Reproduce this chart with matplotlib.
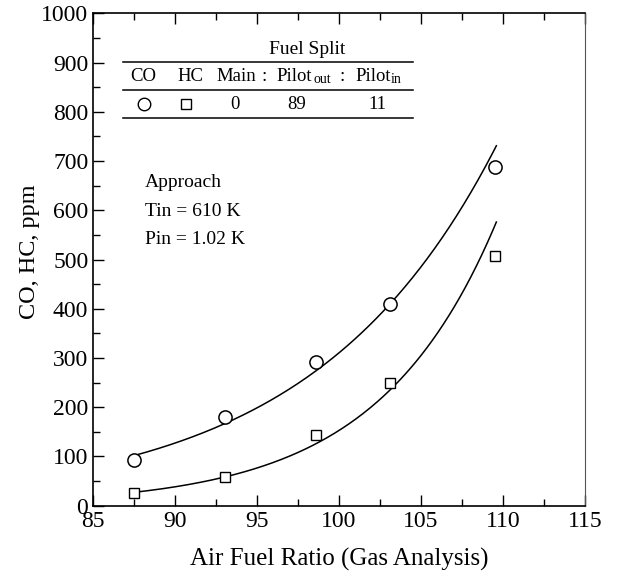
import numpy as np
import matplotlib
matplotlib.use("Agg")
import matplotlib.pyplot as plt
from matplotlib.ticker import MultipleLocator

plt.rcParams["font.family"] = ["Liberation Serif", "DejaVu Serif"]

# data
co_afr = [87.5, 93.1, 98.6, 103.1, 109.5]
co_ppm = [93, 180, 292, 410, 687]
hc_afr = [87.5, 93.1, 98.6, 103.1, 109.5]
hc_ppm = [25, 58, 144, 250, 508]
fit_range = [87.5, 109.6]

split_cols = ["Main", "Pilot", "Pilot"]
split_vals = ["0", "89", "11"]

fig = plt.figure(figsize=(6.18, 5.74), dpi=100)
ax = fig.add_axes([0.1497, 0.119, 0.7969, 0.8578])

# exponential least-squares curves (fit in log space)
xf = np.linspace(fit_range[0], fit_range[1], 200)
for xs, ys in [(co_afr, co_ppm), (hc_afr, hc_ppm)]:
    b, a = np.polyfit(xs, np.log(ys), 1)
    ax.plot(xf, np.exp(a + b * xf), color="black", lw=1.1, zorder=2)

ax.plot(co_afr, co_ppm, "o", ms=9.5, mfc="white", mec="black", mew=1.1, ls="none", zorder=3)
ax.plot(hc_afr, hc_ppm, "s", ms=7, mfc="white", mec="black", mew=1.0, ls="none", zorder=3)

ax.set_xlim(85, 115)
ax.set_ylim(0, 1000)
ax.xaxis.set_major_locator(MultipleLocator(5))
ax.xaxis.set_minor_locator(MultipleLocator(2.5))
ax.yaxis.set_major_locator(MultipleLocator(100))
ax.yaxis.set_minor_locator(MultipleLocator(50))
ax.tick_params(which="both", direction="in", top=True, right=False, labelsize=17, width=1)
ax.tick_params(which="major", length=8)
ax.tick_params(which="minor", length=5)
ax.tick_params(axis="x", pad=4)
ax.tick_params(axis="y", pad=3)
ax.spines["right"].set_color("#555555")
for s in ["left", "bottom", "top"]:
    ax.spines[s].set_linewidth(1.2)

ax.set_xlabel("Air Fuel Ratio (Gas Analysis)", fontsize=18, labelpad=11)
ax.set_ylabel("CO, HC, ppm", fontsize=17.5)
ax.yaxis.set_label_coords(-0.107, 0.515)

# fuel split table (figure pixel coordinates -> axes fraction)
def px(x, y):
    return ((x - 92.5) / 492.5, (505.7 - y) / 492.4)

tf = ax.transAxes
for yl in [62, 89.5, 117.5]:
    x0, y0 = px(123, yl)
    x1, _ = px(413, yl)
    ax.plot([x0, x1], [y0, y0], color="black", lw=1.1, transform=tf, clip_on=False)

fs = 13.5
sub = 10
ax.text(*px(307, 49), "Fuel Split", transform=tf, ha="center", va="center", fontsize=14)
ax.text(*px(143, 76), "CO", transform=tf, ha="center", va="center", fontsize=fs)
ax.text(*px(190, 76), "HC", transform=tf, ha="center", va="center", fontsize=fs)
ax.text(*px(216, 76), split_cols[0], transform=tf, ha="left", va="center", fontsize=fs)
ax.text(*px(264, 76), ":", transform=tf, ha="center", va="center", fontsize=fs)
ax.text(*px(276.5, 76), split_cols[1], transform=tf, ha="left", va="center", fontsize=fs)
ax.text(*px(313, 79), "out", transform=tf, ha="left", va="center", fontsize=sub)
ax.text(*px(342, 76), ":", transform=tf, ha="center", va="center", fontsize=fs)
ax.text(*px(355.5, 76), split_cols[2], transform=tf, ha="left", va="center", fontsize=fs)
ax.text(*px(390.5, 79), "in", transform=tf, ha="left", va="center", fontsize=sub)

ax.plot(*px(143.5, 104), "o", ms=9, mfc="white", mec="black", mew=1.0, transform=tf, clip_on=False)
ax.plot(*px(186, 104), "s", ms=6.5, mfc="white", mec="black", mew=1.0, transform=tf, clip_on=False)
for xv, v in zip([235, 297, 377], split_vals):
    ax.text(*px(xv, 104), v, transform=tf, ha="center", va="center", fontsize=fs)

# operating condition
for yv, t in zip([182, 211, 239], ["Approach", "Tin = 610 K", "Pin = 1.02 K"]):
    ax.text(*px(145, yv), t, transform=tf, ha="left", va="center", fontsize=14)

fig.savefig("out.png", dpi=100)
